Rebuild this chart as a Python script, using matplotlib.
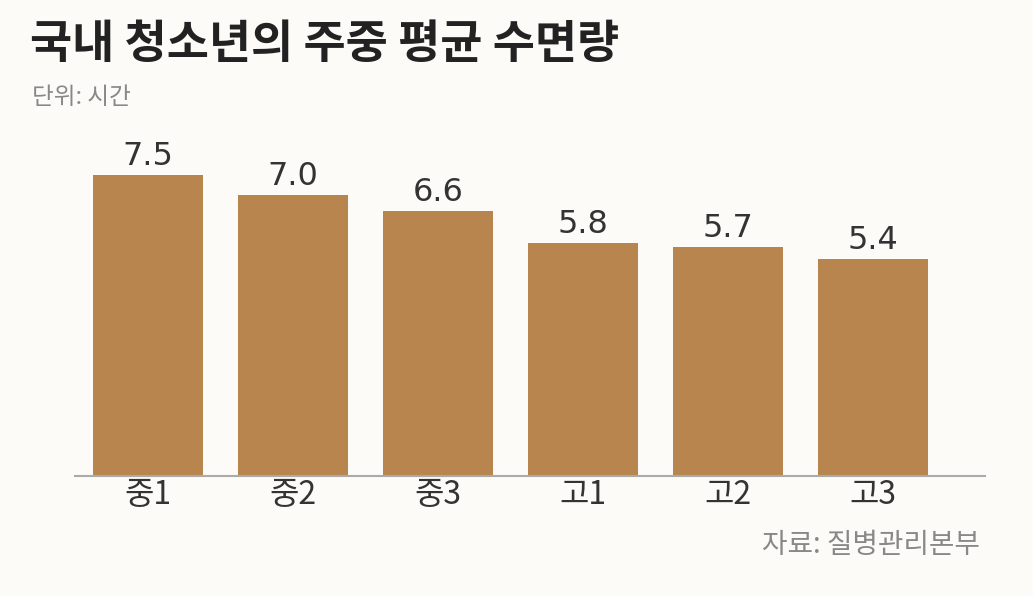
import matplotlib
matplotlib.use("Agg")
import matplotlib.pyplot as plt

categories = ["중1", "중2", "중3", "고1", "고2", "고3"]
values = [7.5, 7.0, 6.6, 5.8, 5.7, 5.4]

plt.rcParams['font.family'] = ['Noto Sans CJK KR', 'DejaVu Sans']
fig = plt.figure(figsize=(10.33, 5.96), dpi=100)
fig.patch.set_facecolor('#fcfbf7')
ax = fig.add_axes([75/1033, 1-476/596, 910/1033, 341/596])
ax.set_facecolor('#fcfbf7')
x = list(range(len(categories)))
ax.bar(x, values, width=0.76, color='#b9854f')
for xi, v in zip(x, values):
    ax.text(xi, v + 0.08, f"{v:.1f}", ha='center', va='bottom', fontsize=23,
            color='#333333', family=['DejaVu Sans'])
ax.set_xlim(-0.503, 5.77)
ax.set_ylim(0, 8.5)
ax.set_xticks(x)
ax.set_xticklabels(categories, fontsize=23, color='#333333')
ax.tick_params(axis='x', length=0, pad=2)
ax.set_yticks([])
for s in ['top', 'right', 'left']:
    ax.spines[s].set_visible(False)
ax.spines['bottom'].set_color('#aaaaaa')
ax.spines['bottom'].set_linewidth(1.5)

fig.text(30/1033, 1-45/596, "국내 청소년의 주중 평균 수면량", fontsize=33, fontweight='bold', color='#222222', va='center')
fig.text(32/1033, 1-97/596, "단위: 시간", fontsize=17, color='#888888', va='center')
fig.text(980/1033, 1-545/596, "자료: 질병관리본부", fontsize=20, color='#888888', va='center', ha='right')
fig.savefig("out.png", dpi=100, facecolor=fig.get_facecolor())
